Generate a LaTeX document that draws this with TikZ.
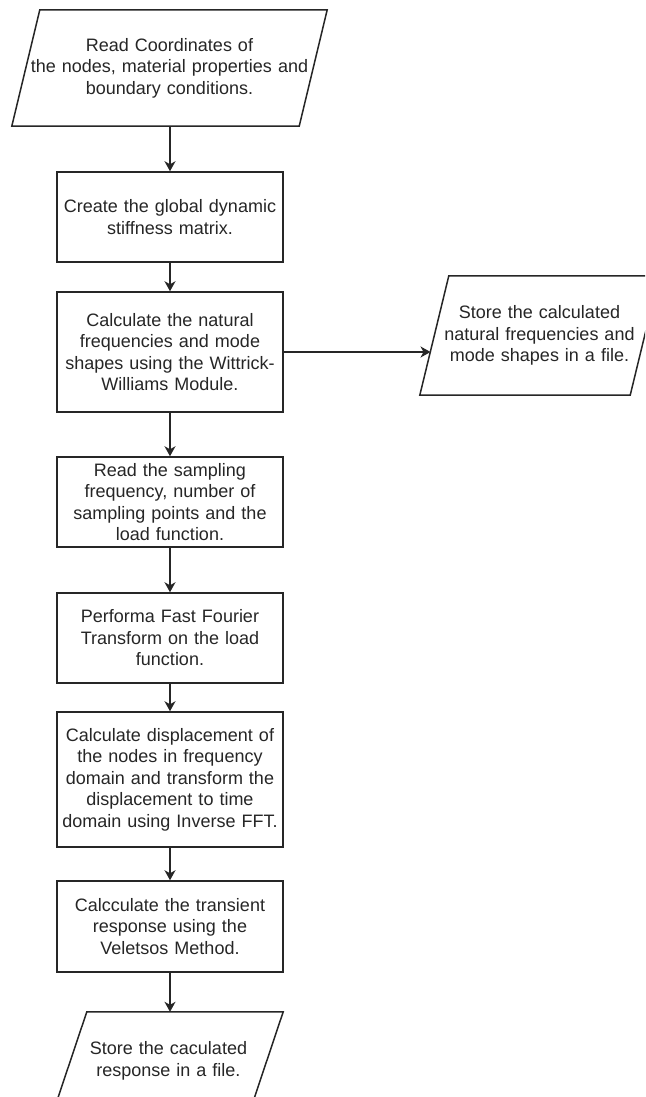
\documentclass[tikz,border=0pt]{standalone}
\usepackage{fontspec}
\setmainfont{Liberation Sans}
\usetikzlibrary{arrows.meta,calc}
\definecolor{ink}{RGB}{38,38,38}
\begin{document}
\begin{tikzpicture}[x=1pt,y=-1pt,
  line/.style={draw=ink,line width=1.5pt,line join=miter},
  arr/.style={draw=ink,line width=1.5pt,-{Stealth[length=10pt,width=11pt,inset=3pt]}},
  txt/.style={text=ink,font=\fontsize{18}{21.5}\selectfont,align=center,inner sep=0pt},
  procbox/.style={line,txt,minimum width=226pt,text width=216pt},
  iobox/.style={txt,draw=none}
]
\useasboundingbox (0,0) rectangle (645,1097);
\clip (0,0) rectangle (645,1097);
\fill[white] (0,0) rectangle (645,1097);

% parallelogram 1
\node[iobox,minimum width=315pt,minimum height=116pt,text width=290pt] (P1) at (169.5,68)
  {Read Coordinates of\\the nodes, material properties and\\boundary conditions.};
\draw[line] ([xshift=28pt]P1.north west) -- (P1.north east) -- ([xshift=-28pt]P1.south east) -- (P1.south west) -- cycle;

\node[procbox,minimum height=90pt] (B2) at (170,217)
  {Create the global dynamic\\stiffness matrix.};
\node[procbox,minimum height=120pt] (B3) at (170,352)
  {Calculate the natural\\frequencies and mode\\shapes using the Wittrick-\\Williams Module.};
\node[procbox,minimum height=90pt] (B4) at (170,502)
  {Read the sampling\\frequency, number of\\sampling points and the\\load function.};
\node[procbox,minimum height=90pt] (B5) at (170,638)
  {Performa Fast Fourier\\Transform on the load\\function.};
\node[procbox,minimum height=135pt] (B6) at (170,779.5)
  {Calculate displacement of\\the nodes in frequency\\domain and transform the\\displacement to time\\domain using Inverse FFT.};
\node[procbox,minimum height=91pt] (B7) at (170,926.5)
  {Calcculate the transient\\response using the\\Veletsos Method.};

% parallelogram 8
\node[iobox,minimum width=229pt,minimum height=98pt,text width=190pt] (P8) at (168.5,1061)
  {Store the caculated\\response in a file.};
\draw[line] ([xshift=33pt]P8.north west) -- (P8.north east) -- ([xshift=-33pt]P8.south east) -- (P8.south west) -- cycle;

% parallelogram 9
\node[iobox,minimum width=239pt,minimum height=119pt,text width=200pt] (P9) at (539.5,335.5)
  {Store the calculated\\natural frequencies and\\mode shapes in a file.};
\draw[line] ([xshift=29pt]P9.north west) -- (P9.north east) -- ([xshift=-29pt]P9.south east) -- (P9.south west) -- cycle;
\coordinate (p9in) at ($(P9.south west)!0.37!([xshift=29pt]P9.north west)$);

% connectors
\draw[arr] (B2.north |- P1.south) -- (B2.north);
\draw[arr] (B2) -- (B3);
\draw[arr] (B3) -- (B4);
\draw[arr] (B4) -- (B5);
\draw[arr] (B5) -- (B6);
\draw[arr] (B6) -- (B7);
\draw[arr] (B7.south) -- (B7.south |- P8.north);
\draw[arr] (B3.east) -- (B3.east -| p9in);
\end{tikzpicture}
\end{document}
